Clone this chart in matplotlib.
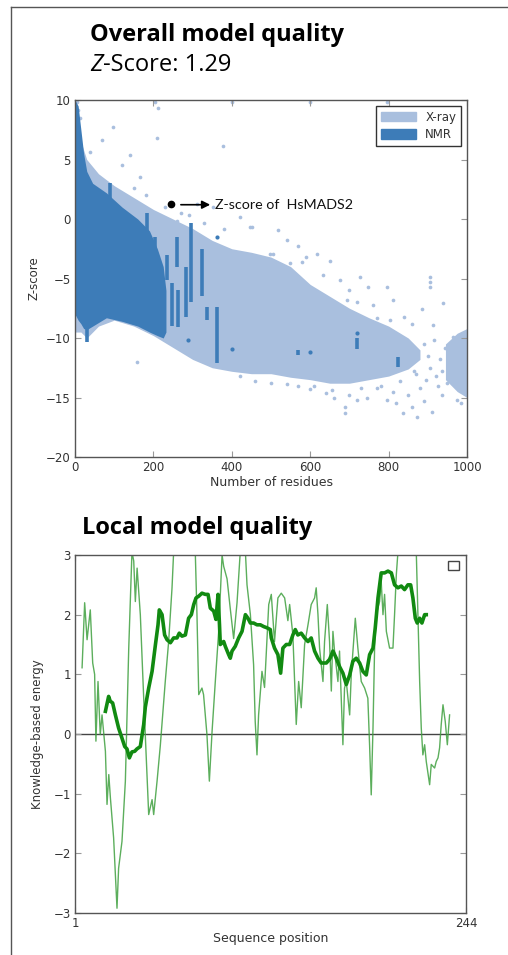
import numpy as np
import matplotlib
matplotlib.use("Agg")
import matplotlib.pyplot as plt
from matplotlib.lines import Line2D
from matplotlib.patches import Patch, Rectangle

# ---- overall quality: envelopes of the reference clouds ----
xray_x = [0, 15, 30, 60, 100, 150, 200, 250, 300, 350, 400, 450, 500, 550, 600, 650, 700, 750, 800, 850, 880]
xray_hi = [10, 6.5, 5.0, 3.8, 2.8, 1.8, 0.8, 0.0, -0.8, -1.8, -2.5, -2.8, -3.2, -4.0, -5.5, -6.5, -7.5, -8.3, -9.0, -10.0, -11.0]
xray_lo = [-9.5, -9.5, -10, -9, -8.5, -9.0, -9.8, -10.8, -11.8, -12.5, -12.8, -13.0, -13.0, -13.3, -13.5, -13.8, -13.8, -13.5, -13.2, -12.6, -11.8]
tail_x = [945, 975, 1000]
tail_hi = [-10.5, -9.6, -9.2]
tail_lo = [-13.5, -14.5, -15.0]

xray_px = [5, 8, 12, 38, 69, 97, 120, 140, 166, 204, 212, 209, 378, 400, 600, 795, 150, 180, 230, 270,
           311, 352, 421, 446, 451, 518, 497, 505, 472, 569, 617, 540, 590, 650, 548, 579, 633, 676, 727, 747,
           795, 906, 906, 906, 811, 885, 939, 694, 770, 804, 913, 964, 700, 720, 760, 840, 860, 330, 380, 290,
           260, 890, 900, 905, 915, 920, 930, 935, 945, 950, 955, 925, 895, 880, 870, 158, 569, 600, 640, 660,
           689, 689, 700, 720, 745, 770, 795, 810, 820, 837, 850, 860, 872, 890, 911, 936, 974, 985, 995, 420,
           460, 500, 540, 610, 655, 730, 780, 830, 865]
xray_py = [9.8, 9.2, 8.5, 5.6, 6.6, 7.7, 4.5, 5.4, 3.5, 9.8, 9.3, 6.8, 6.1, 9.8, 9.8, 9.8, 2.6, 2.0, 1.0, 0.5,
           1.3, 1.0, 0.2, -0.7, -0.7, -0.9, -2.9, -2.9, -4.0, -2.3, -2.9, -1.8, -3.2, -3.5, -3.7, -3.6, -4.7, -5.1, -4.9, -5.7,
           -5.7, -4.9, -5.3, -5.7, -6.8, -7.6, -7.1, -6.8, -8.3, -8.5, -8.9, -9.9, -6.0, -7.0, -7.2, -8.2, -8.8, -0.3, -0.8, 0.3,
           -0.2, -10.5, -11.5, -12.5, -10.2, -13.2, -11.8, -12.8, -10.8, -13.8, -12.2, -14.0, -13.5, -14.2, -13.0, -12.0, -14.0, -14.3, -14.6, -15.0,
           -15.8, -16.3, -14.8, -15.2, -15.0, -14.2, -15.2, -14.5, -15.5, -16.3, -14.8, -15.8, -16.6, -15.3, -16.2, -14.8, -15.2, -15.5, -14.6, -13.2,
           -13.6, -13.8, -13.9, -14.0, -14.4, -14.2, -14.0, -13.6, -12.8]

nmr_x = [0, 8, 15, 22, 30, 45, 80, 120, 160, 190, 210, 225, 232]
nmr_hi = [10, 9.5, 7.5, 5.5, 4.0, 3.0, 2.2, 1.0, 0.0, -1.0, -2.5, -4.0, -6.0]
nmr_lo = [-8.0, -8.5, -8.8, -9.2, -9.3, -9.0, -8.3, -8.6, -9.0, -9.5, -9.8, -10.0, -9.5]
nmr_sx = [30, 89, 183, 204, 234, 248, 262, 260, 283, 296, 324, 336, 362, 569, 720, 824]
nmr_slo = [-10.3, 1.6, -2.9, -4.0, -5.1, -9.0, -9.1, -4.0, -8.2, -7.0, -6.5, -8.5, -12.1, -11.4, -10.9, -12.4]
nmr_shi = [-9.0, 3.0, 0.5, -1.5, -3.0, -5.4, -6.0, -1.5, -4.0, -0.3, -2.5, -7.4, -7.4, -11.0, -10.0, -11.6]
nmr_dx = [288, 400, 600, 362, 720]
nmr_dy = [-10.2, -10.9, -11.2, -1.5, -9.6]

model_n = 244
model_z = 1.29

# ---- local quality ----
win10_x = [5.4, 7, 8.5, 10.5, 12, 13.2, 14, 15.3, 16.7, 17.8, 19.9, 20.9, 22, 23, 25, 27.1, 28.1, 30.2, 32.3, 34.4,
           36.4, 37.5, 38.5, 39.6, 41.6, 43.7, 45.7, 46.8, 48.9, 49.9, 52, 54, 57.1, 59.2, 61.3, 62.3, 65, 70, 74, 75.8,
           76.8, 77.9, 79.9, 80.9, 83, 84.5, 86.2, 88.2, 90.3, 92.4, 93.4, 95.5, 97.5, 99.6, 101.7, 103.7, 105.3, 106.9, 107.9, 110,
           112, 113, 114.1, 115.1, 117.2, 118.8, 121.4, 123, 125, 127.1, 129.2, 131.3, 133.3, 134.4, 136.4, 138.5, 140, 141.6, 143.7, 145.8,
           147.8, 149.9, 150.9, 152, 153, 155.1, 156.1, 157.8, 159.2, 160.3, 161.3, 162.3, 164.4, 165.4, 167.5, 168.5, 169.6, 171.7, 172.7, 175.2,
           176.8, 178.9, 181, 183, 184.1, 185.1, 186.2, 187.2, 188.2, 190.3, 191.3, 192.4, 193.4, 194.5, 196.5, 198.6, 199.6, 200.7, 201.7, 205,
           210, 213.1, 214.1, 215.2, 216.2, 217.2, 218.3, 219.3, 221.4, 222.4, 224.5, 225.5, 226.6, 227.6, 228.6, 229.7, 231.1, 232.4, 233.8]
win10_y = [1.11, 2.2, 1.58, 2.08, 1.19, 1.0, -0.12, 0.88, -0.01, 0.32, -0.29, -1.18, -0.68, -1.07, -1.74, -2.92, -2.25, -1.8, -0.79, 1.44,
           3.05, 2.9, 2.22, 2.78, 2.0, 0.6, -0.68, -1.35, -1.1, -1.35, -0.79, -0.2, 0.88, 1.55, 2.45, 3.05, 3.4, 3.6, 3.3, 3.0,
           2.0, 0.66, 0.77, 0.66, -0.01, -0.79, 0.05, 0.88, 1.72, 3.0, 2.81, 2.6, 2.1, 1.6, 2.2, 3.05, 3.2, 3.05, 2.5, 2.0,
           1.16, 0.21, -0.35, 0.32, 1.05, 0.78, 2.17, 2.34, 1.55, 2.28, 2.36, 2.28, 1.9, 2.17, 1.66, 0.16, 0.88, 0.44, 1.5, 1.83,
           2.17, 2.28, 2.45, 2.0, 1.44, 0.88, 1.55, 2.17, 1.55, 0.72, 1.72, 1.39, 0.88, 1.39, -0.18, 0.77, 0.88, 0.32, 1.0, 1.94,
           1.44, 0.88, 0.77, 0.6, -0.2, -1.02, 0.1, 1.44, 2.0, 2.22, 2.56, 2.0, 2.34, 1.72, 1.44, 1.44, 2.0, 2.67, 3.05, 3.5,
           3.6, 3.05, 2.0, 0.88, 0.1, -0.35, -0.18, -0.46, -0.85, -0.51, -0.57, -0.46, -0.4, -0.23, 0.16, 0.49, 0.21, -0.18, 0.32]

win40_x = [19.9, 21.9, 22.9, 24.4, 26.1, 28.1, 30.2, 31.9, 33.3, 34.8, 36.4, 38.1, 39.5, 41.6, 43.7, 44.7, 46.8, 48.9, 51, 52.6,
           53.4, 55.1, 56.7, 58.2, 60.3, 62.3, 64.4, 65.8, 67.5, 69.6, 71.6, 73.3, 74.8, 76.2, 77.9, 79.9, 82, 83.7, 85.1, 87.2,
           88.6, 89.9, 90.8, 91.3, 93.4, 94.4, 96.5, 97.5, 98.6, 100.6, 102.7, 104.8, 106.9, 108.5, 110, 112, 114.1, 116.2, 118.3, 120.3,
           122.4, 123, 125, 127.1, 128.8, 130.2, 132.3, 134.4, 136.4, 137.9, 139.5, 141.6, 143.7, 145.8, 147.8, 149.9, 152, 154, 157.2, 159.2,
           161.3, 163.4, 165.4, 167.5, 169.6, 171.7, 173.7, 175.8, 177.9, 179.9, 182, 184.1, 186.2, 187.6, 189.3, 191.3, 193.4, 195.5, 197.6, 199.6,
           201.7, 203.8, 205.8, 207.9, 209.6, 211, 212.5, 213.7, 215.2, 216.6, 218.3, 219.3]
win40_y = [0.38, 0.63, 0.55, 0.52, 0.32, 0.1, -0.07, -0.21, -0.25, -0.4, -0.3, -0.29, -0.25, -0.21, 0.16, 0.45, 0.77, 1.05, 1.5, 1.83,
           2.08, 2.0, 1.66, 1.58, 1.53, 1.61, 1.61, 1.69, 1.64, 1.66, 1.94, 2.0, 2.17, 2.28, 2.31, 2.36, 2.34, 2.34, 2.11, 2.06,
           1.92, 2.34, 1.83, 1.5, 1.55, 1.47, 1.33, 1.27, 1.39, 1.47, 1.61, 1.72, 2.0, 1.94, 1.86, 1.86, 1.83, 1.83, 1.8, 1.78,
           1.75, 1.61, 1.44, 1.33, 1.02, 1.44, 1.5, 1.5, 1.66, 1.75, 1.66, 1.69, 1.61, 1.55, 1.61, 1.39, 1.27, 1.19, 1.19, 1.25,
           1.39, 1.27, 1.13, 1.02, 0.83, 0.99, 1.22, 1.27, 1.19, 1.05, 0.99, 1.33, 1.44, 1.78, 2.28, 2.7, 2.7, 2.73, 2.7, 2.5,
           2.45, 2.48, 2.42, 2.5, 2.5, 2.28, 1.94, 1.86, 1.94, 1.86, 2.0, 2.0]

xray_col = "#a9bfde"
nmr_col = "#3d7cb8"
spine_col = "#555555"
tick_col = "#333333"
title_font = "Open Sans"

plt.rcParams["font.family"] = "DejaVu Sans"
fig = plt.figure(figsize=(5.08, 9.55), dpi=100)


def style_axes(ax):
    for s in ax.spines.values():
        s.set_color(spine_col)
        s.set_linewidth(1.0)
    ax.tick_params(direction="in", top=True, right=True, length=4, width=0.8,
                   color="#999999", labelsize=8.5, labelcolor=tick_col, pad=3)


# top panel
ax1 = fig.add_axes([75 / 508, 1 - 457 / 955, 392 / 508, 357 / 955])
ax1.fill_between(xray_x, xray_lo, xray_hi, color=xray_col, lw=0, zorder=1)
ax1.fill_between(tail_x, tail_lo, tail_hi, color=xray_col, lw=0, zorder=1)
ax1.scatter(xray_px, xray_py, s=7, color=xray_col, lw=0, zorder=1)
ax1.fill_between(nmr_x, nmr_lo, nmr_hi, color=nmr_col, lw=0, zorder=2)
ax1.vlines(nmr_sx, nmr_slo, nmr_shi, color=nmr_col, lw=2.6, zorder=2)
ax1.scatter(nmr_dx, nmr_dy, s=9, color=nmr_col, lw=0, zorder=2)
ax1.plot([model_n], [model_z], "o", color="black", ms=4.5, zorder=4)
ax1.annotate("", xy=(352, 1.2), xytext=(263, 1.2),
             arrowprops=dict(arrowstyle="-|>", color="black", lw=1.2, mutation_scale=12), zorder=4)
ax1.text(358, 1.2, "Z-score of  HsMADS2", fontsize=10.3, family="Lato", va="center", ha="left", color="#111111")
ax1.set_xlim(0, 1000)
ax1.set_ylim(-20, 10)
ax1.set_xticks([0, 200, 400, 600, 800, 1000])
ax1.set_yticks([-20, -15, -10, -5, 0, 5, 10])
ax1.set_xlabel("Number of residues", fontsize=9, color=tick_col, labelpad=1)
ax1.set_ylabel("Z-score", fontsize=8.5, color=tick_col, labelpad=4)
style_axes(ax1)
leg = ax1.legend(handles=[Patch(color=xray_col, label="X-ray"), Patch(color=nmr_col, label="NMR")],
                 loc="upper right", fontsize=8.5, fancybox=False, framealpha=1, edgecolor="#333333",
                 handlelength=3.0, handleheight=0.9, borderaxespad=0.5, labelspacing=0.4)
for t in leg.get_texts():
    t.set_color(tick_col)

# bottom panel
ax2 = fig.add_axes([75 / 508, 1 - 913 / 955, 391 / 508, 358 / 955])
ax2.axhline(0, color="#444444", lw=1.0, zorder=1)
ax2.plot(win10_x, win10_y, color="#3fa03f", lw=1.0, alpha=0.85, zorder=2)
ax2.plot(win40_x, win40_y, color="#118a11", lw=2.6, zorder=3)
ax2.add_patch(Rectangle((0.955, 0.957), 0.026, 0.026, transform=ax2.transAxes,
                        fill=False, edgecolor="#444444", lw=1.0))
ax2.set_xlim(1, model_n)
ax2.set_ylim(-3, 3)
ax2.set_xticks([1, model_n])
ax2.set_yticks([-3, -2, -1, 0, 1, 2, 3])
ax2.set_xlabel("Sequence position", fontsize=9, color=tick_col, labelpad=1)
ax2.set_ylabel("Knowledge-based energy", fontsize=8.5, color=tick_col, labelpad=7)
style_axes(ax2)

# titles
fig.text(90 / 508, 1 - 35 / 955, "Overall model quality", fontsize=17, family=title_font,
         weight="bold", va="center", ha="left")
z = fig.text(90 / 508, 1 - 65 / 955, "Z", fontsize=17, family=title_font, style="italic",
             va="center", ha="left")
fig.canvas.draw()
bb = z.get_window_extent(fig.canvas.get_renderer())
fig.text(bb.x1 / 508, 1 - 65 / 955, "-Score: 1.29", fontsize=17, family=title_font,
         va="center", ha="left")
fig.text(82 / 508, 1 - 528 / 955, "Local model quality", fontsize=17, family=title_font,
         weight="bold", va="center", ha="left")

# outer frame
fig.add_artist(Line2D([11 / 508, 1], [1 - 7 / 955, 1 - 7 / 955], color="#555555", lw=1.0))
fig.add_artist(Line2D([11 / 508, 11 / 508], [1 - 7 / 955, 0], color="#555555", lw=1.0))

fig.savefig("out.png", dpi=100)
